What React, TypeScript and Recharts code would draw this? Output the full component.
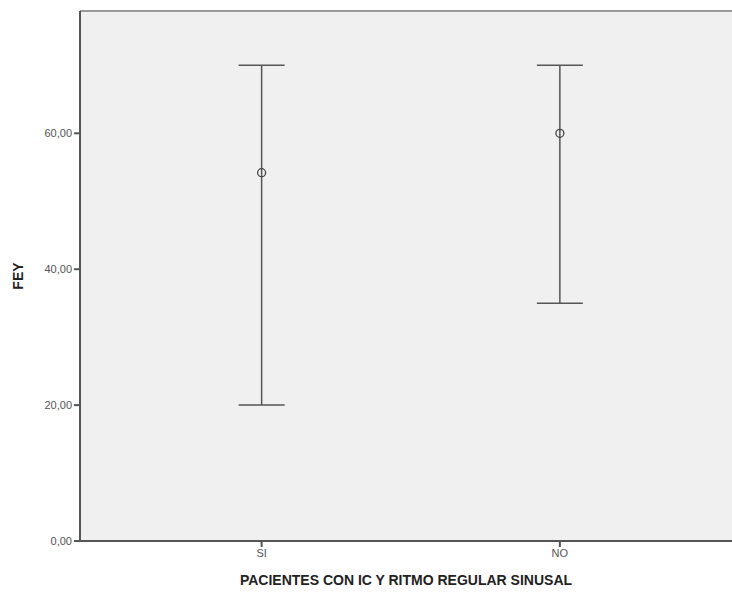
import React from "react";
import {
  ComposedChart,
  Scatter,
  ErrorBar,
  XAxis,
  YAxis,
  CartesianGrid,
  ReferenceLine,
} from "recharts";

const categories = ["SI", "NO"];
const means = [54.2, 60];
const lows = [20, 35];
const highs = [70, 70];
const yTicks = [0, 20, 40, 60];

const data = categories.map((name, i) => ({
  x: i + 1,
  name,
  mean: means[i],
  err: [means[i] - lows[i], highs[i] - means[i]],
}));

const fmt = (v: number) => v.toFixed(2).replace(".", ",");

const Dot = (props: any) => {
  const { cx, cy } = props;
  return <circle cx={cx} cy={cy} r={4} fill="none" stroke="#444" strokeWidth={1.3} />;
};

export default function App() {
  return (
    <div
      style={{
        position: "absolute",
        left: 0,
        top: 0,
        width: 732,
        height: 597,
        overflow: "hidden",
        background: "#fff",
        fontFamily: "Arial, 'Liberation Sans', sans-serif",
      }}
    >
      <ComposedChart
        width={740}
        height={597}
        data={data}
        margin={{ top: 11, right: 0, left: 20, bottom: 0 }}
      >
        <CartesianGrid horizontal={false} vertical={false} fill="#f0f0f0" />
        <ReferenceLine y={78} stroke="#9a9a9a" strokeWidth={2} ifOverflow="extendDomain" />
        <XAxis
          dataKey="x"
          type="number"
          domain={[0.391, 2.604]}
          ticks={[1, 2]}
          tickFormatter={(v: number) => categories[v - 1] ?? ""}
          allowDataOverflow
          stroke="#555"
          strokeWidth={2}
          tickSize={6}
          tick={{ fill: "#555", fontSize: 11 }}
          height={56}
          label={{
            value: "PACIENTES CON IC Y RITMO REGULAR SINUSAL",
            position: "insideBottom",
            offset: 12,
            dx: -4,
            style: { fontWeight: "bold", fontSize: 14, fill: "#222" },
          }}
        />
        <YAxis
          type="number"
          domain={[0, 78]}
          ticks={yTicks}
          tickFormatter={fmt}
          stroke="#555"
          strokeWidth={2}
          tickSize={6}
          width={60}
          tick={{ fill: "#555", fontSize: 11 }}
          label={{
            value: "FEY",
            angle: -90,
            position: "insideLeft",
            offset: -2,
            style: { fontWeight: "bold", fontSize: 14, fill: "#222", textAnchor: "middle" },
          }}
        />
        <Scatter dataKey="mean" shape={<Dot />} isAnimationActive={false}>
          <ErrorBar dataKey="err" direction="y" width={23} stroke="#555" strokeWidth={1.5} />
        </Scatter>
      </ComposedChart>
    </div>
  );
}
